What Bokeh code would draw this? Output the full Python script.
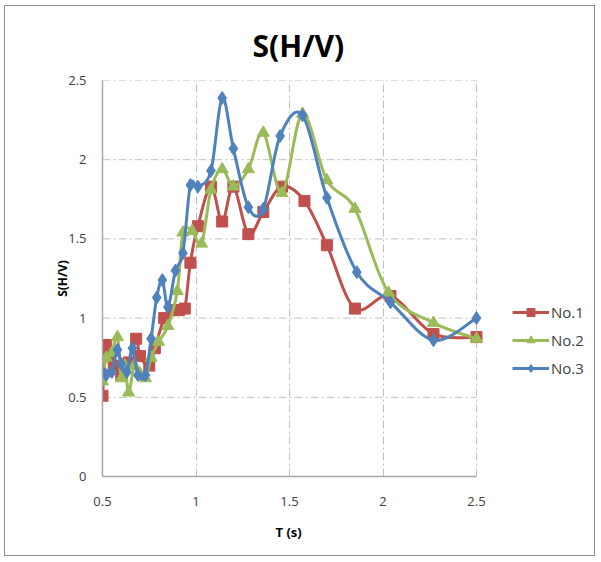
from bokeh.plotting import figure
from bokeh.models import FixedTicker, Legend, LegendItem, ColumnDataSource, Title
from bokeh.embed import file_html
from bokeh.resources import INLINE

# ---- data ----
t1 = [0.50, 0.52, 0.53, 0.56, 0.60, 0.64, 0.68, 0.70, 0.75, 0.78, 0.83, 0.87, 0.91, 0.94, 0.97, 1.01, 1.08, 1.14, 1.20, 1.28, 1.36, 1.46, 1.58, 1.70, 1.85, 2.04, 2.27, 2.50]
s1 = [0.51, 0.83, 0.76, 0.70, 0.64, 0.72, 0.87, 0.76, 0.70, 0.81, 1.00, 1.05, 1.05, 1.06, 1.35, 1.58, 1.83, 1.61, 1.83, 1.53, 1.67, 1.83, 1.74, 1.46, 1.06, 1.14, 0.90, 0.88]

t2 = [0.50, 0.52, 0.55, 0.58, 0.60, 0.62, 0.64, 0.67, 0.70, 0.73, 0.76, 0.80, 0.85, 0.90, 0.93, 0.98, 1.03, 1.08, 1.14, 1.20, 1.28, 1.36, 1.46, 1.57, 1.70, 1.85, 2.03, 2.27, 2.50]
s2 = [0.60, 0.75, 0.78, 0.88, 0.62, 0.70, 0.53, 0.70, 0.65, 0.62, 0.75, 0.85, 0.95, 1.17, 1.54, 1.55, 1.47, 1.81, 1.94, 1.83, 1.94, 2.17, 1.79, 2.29, 1.87, 1.69, 1.16, 0.97, 0.87]

t3 = [0.50, 0.52, 0.55, 0.58, 0.60, 0.63, 0.66, 0.69, 0.73, 0.76, 0.79, 0.82, 0.85, 0.89, 0.93, 0.97, 1.01, 1.08, 1.14, 1.20, 1.28, 1.36, 1.45, 1.57, 1.70, 1.86, 2.04, 2.27, 2.50]
s3 = [0.66, 0.64, 0.66, 0.80, 0.71, 0.66, 0.81, 0.64, 0.64, 0.87, 1.13, 1.24, 1.07, 1.30, 1.41, 1.84, 1.83, 1.93, 2.39, 2.07, 1.70, 1.69, 2.15, 2.28, 1.76, 1.29, 1.10, 0.86, 1.00]

series_names = ["No.1", "No.2", "No.3"]
x_ticks = [0.5, 1, 1.5, 2, 2.5]
x_tick_labels = ["0.5", "1", "1.5", "2", "2.5"]
y_ticks = [0, 0.5, 1, 1.5, 2, 2.5]
y_tick_labels = ["0", "0.5", "1", "1.5", "2", "2.5"]

FONT = "Open Sans"
colors = ["#C0504D", "#9BBB59", "#4F81BD"]
markers = ["square", "triangle", "diamond"]
msizes = [11, 12, 13]

# layout (pixels)
W, H = 591, 551
BL, BR, BT, BB = 97, 8, 74, 81
AXIS_PX = 374  # pixel length of the 0.5..2.5 axis
frame_w = W - BL - BR
x_min, x_max = x_ticks[0], x_ticks[-1]
x_end = x_min + frame_w * (x_max - x_min) / AXIS_PX

p = figure(width=W, height=H, x_range=(x_min, x_end), y_range=(y_ticks[0], y_ticks[-1]),
           output_backend="svg", toolbar_location=None,
           min_border_left=BL, min_border_right=BR, min_border_top=BT, min_border_bottom=BB,
           title="S(H/V)")
p.styles = {"border": "1px solid #8c8c8c", "margin-left": "4px", "margin-top": "5px"}
p.outline_line_color = None
p.background_fill_color = "white"

p.title.align = "left"
p.title.text_font = FONT
p.title.text_font_size = "30px"
p.title.text_font_style = "bold"
p.title.text_color = "#000000"
p.title.offset = 150
p.title.standoff = 30

for ax, ticks, labels in ((p.xaxis[0], x_ticks, x_tick_labels), (p.yaxis[0], y_ticks, y_tick_labels)):
    ax.ticker = FixedTicker(ticks=ticks)
    ax.major_label_overrides = {tk: lb for tk, lb in zip(ticks, labels)}
    ax.major_tick_line_color = None
    ax.minor_tick_line_color = None
    ax.axis_line_color = "#A6A6A6"
    ax.axis_line_width = 1.5
    ax.major_label_text_font = FONT
    ax.major_label_text_font_size = "13px"
    ax.major_label_text_color = "#404040"
    ax.axis_label_text_font = FONT
    ax.axis_label_text_font_style = "bold"
    ax.axis_label_text_color = "#000000"
    ax.bounds = (ticks[0], ticks[-1])

p.xaxis.major_label_standoff = 14
p.yaxis.axis_label = "S(H/V)"
p.yaxis.axis_label_text_font_size = "12px"
p.yaxis.major_label_standoff = 10
p.yaxis.axis_label_standoff = -6

xlabel = Title(text="T (s)", align="left", offset=173, standoff=24,
               text_font=FONT, text_font_size="13px", text_font_style="bold", text_color="#000000")
p.add_layout(xlabel, "below")

GRID_COLOR = "#BFBFBF"
GRID_DASH = "8 3 2 3"
p.xgrid.grid_line_color = GRID_COLOR
p.xgrid.grid_line_dash = GRID_DASH
p.ygrid.grid_line_color = None
hy = [v for v in y_ticks if v != y_ticks[0]]
p.segment(x0=[x_min] * len(hy), x1=[x_max] * len(hy), y0=hy, y1=hy,
          line_color=GRID_COLOR, line_dash=GRID_DASH, line_width=1)


def smooth_segments(xs, ys):
    n = len(xs)
    d = dict(x0=[], y0=[], x1=[], y1=[], cx0=[], cy0=[], cx1=[], cy1=[])
    for i in range(n - 1):
        i0 = max(i - 1, 0)
        i3 = min(i + 2, n - 1)
        d["x0"].append(xs[i]); d["y0"].append(ys[i])
        d["x1"].append(xs[i + 1]); d["y1"].append(ys[i + 1])
        d["cx0"].append(xs[i] + (xs[i + 1] - xs[i0]) / 6.0)
        d["cy0"].append(ys[i] + (ys[i + 1] - ys[i0]) / 6.0)
        d["cx1"].append(xs[i + 1] - (xs[i3] - xs[i]) / 6.0)
        d["cy1"].append(ys[i + 1] - (ys[i3] - ys[i]) / 6.0)
    return ColumnDataSource(d)


items = []
for name, xs, ys, c, m, ms in zip(series_names, (t1, t2, t3), (s1, s2, s3), colors, markers, msizes):
    src = smooth_segments(xs, ys)
    br = p.bezier(x0="x0", y0="y0", x1="x1", y1="y1", cx0="cx0", cy0="cy0", cx1="cx1", cy1="cy1",
                  source=src, line_color=c, line_width=3)
    sr = p.scatter(xs, ys, marker=m, size=ms, fill_color=c, line_color=c)
    items.append(LegendItem(label=name, renderers=[br, sr]))

legend = Legend(items=items, location=(410, 98))
legend.glyph_width = 37
legend.label_text_font = FONT
legend.label_text_font_size = "15px"
legend.label_text_color = "#404040"
legend.spacing = 8
legend.border_line_color = None
legend.background_fill_alpha = 0
legend.label_standoff = 2
legend.padding = 2
p.add_layout(legend)

open("out.html", "w").write(file_html(p, INLINE))
